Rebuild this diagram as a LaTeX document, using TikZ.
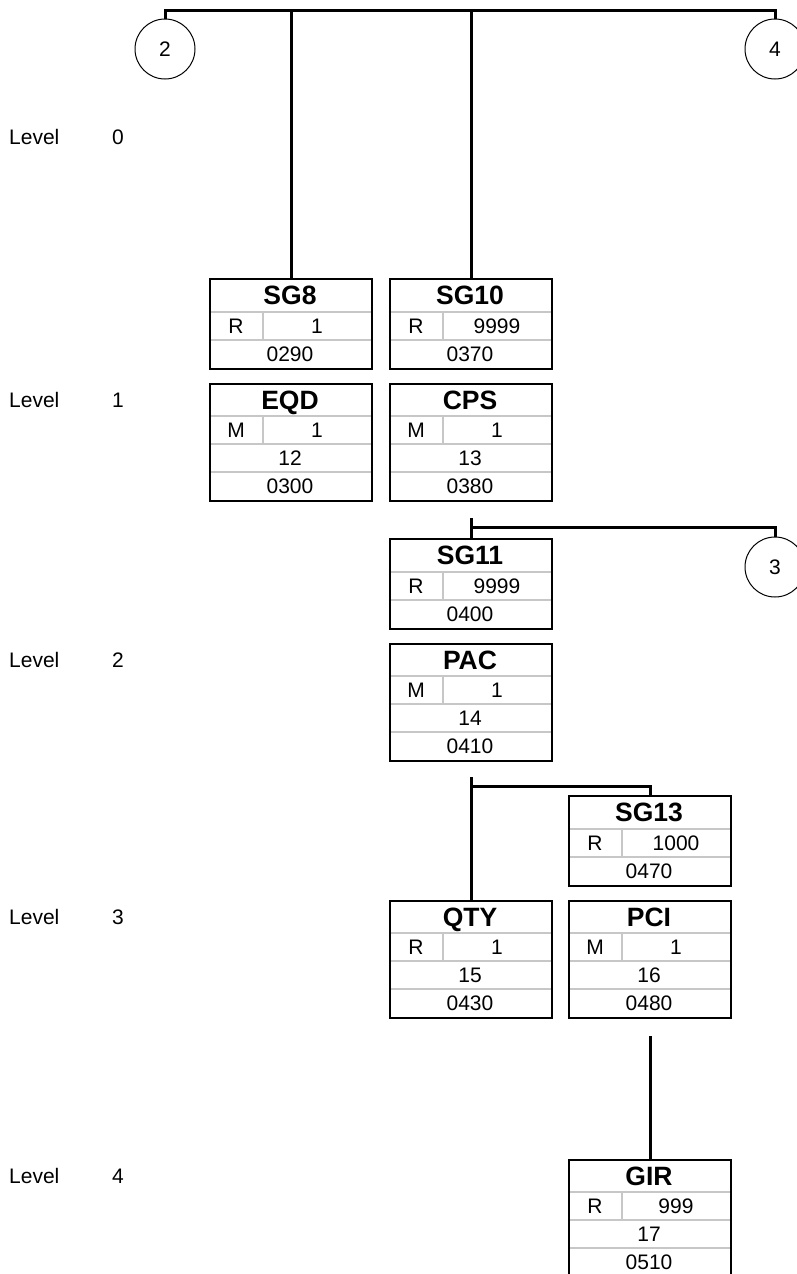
\documentclass[tikz,border=0pt]{standalone}
\usepackage{fontspec}
\setmainfont{Liberation Sans}
\tikzset{
  conn/.style={draw=black, line width=3pt},
  frame/.style={draw=black, line width=2pt, minimum width=162pt, inner sep=0pt, anchor=north west},
  sepline/.style={draw=black!22, line width=1.8pt},
  ttl/.style={inner sep=0pt, text height=19pt, text depth=0pt, font=\fontsize{26.5pt}{30pt}\selectfont\bfseries},
  txt/.style={inner sep=0pt, text height=15pt, text depth=0pt, font=\fontsize{21pt}{24pt}\selectfont},
  circ/.style={draw=black, circle, line width=1pt, minimum size=60pt, inner sep=0pt, text height=15pt, text depth=0pt, font=\fontsize{21pt}{24pt}\selectfont},
  lvl/.style={inner sep=0pt, text height=15pt, text depth=0pt, font=\fontsize{21pt}{24pt}\selectfont}
}
\newcommand\grpbox[7]{%
  \begin{scope}[shift={(#2,#3)}]
    \draw[sepline] (0,34) -- (162,34) (0,62) -- (162,62) (54,34) -- (54,62);
    \node[ttl] (#1-t) at (81,17) {#4};
    \node[txt] (#1-s) at (27,48) {#5};
    \node[txt] (#1-r) at (108,48) {#6};
    \node[txt] (#1-p) at (81,76) {#7};
    \node[frame, minimum height=90pt] (#1) at (0,0) {};
  \end{scope}}
\newcommand\segbox[8]{%
  \begin{scope}[shift={(#2,#3)}]
    \draw[sepline] (0,33) -- (162,33) (0,61) -- (162,61) (0,89) -- (162,89) (54,33) -- (54,61);
    \node[ttl] (#1-t) at (81,16.5) {#4};
    \node[txt] (#1-s) at (27,47) {#5};
    \node[txt] (#1-r) at (108,47) {#6};
    \node[txt] (#1-n) at (81,75) {#7};
    \node[txt] (#1-p) at (81,103) {#8};
    \node[frame, minimum height=117pt] (#1) at (0,0) {};
  \end{scope}}
\begin{document}
\begin{tikzpicture}[x=1pt,y=-1pt]
\useasboundingbox (0,0) rectangle (796,1274);
% level labels
\node[lvl, anchor=west] (lv0) at (9,137) {Level};
\node[lvl] (ln0) at (118,137) {0};
\node[lvl, anchor=west] (lv1) at (9,400) {Level};
\node[lvl] (ln1) at (118,400) {1};
\node[lvl, anchor=west] (lv2) at (9,660) {Level};
\node[lvl] (ln2) at (118,660) {2};
\node[lvl, anchor=west] (lv3) at (9,917) {Level};
\node[lvl] (ln3) at (118,917) {3};
\node[lvl, anchor=west] (lv4) at (9,1176) {Level};
\node[lvl] (ln4) at (118,1176) {4};
% circles
\node[circ] (c2) at (165,49) {2};
\node[circ] (c4) at (775,49) {4};
\node[circ] (c3) at (775,567) {3};
% boxes
\grpbox{sg8}{209}{278}{SG8}{R}{1}{0290}
\grpbox{sg10}{389}{278}{SG10}{R}{9999}{0370}
\segbox{eqd}{209}{383}{EQD}{M}{1}{12}{0300}
\segbox{cps}{389}{383}{CPS}{M}{1}{13}{0380}
\grpbox{sg11}{389}{538}{SG11}{R}{9999}{0400}
\segbox{pac}{389}{643}{PAC}{M}{1}{14}{0410}
\grpbox{sg13}{568}{795}{SG13}{R}{1000}{0470}
\segbox{qty}{389}{900}{QTY}{R}{1}{15}{0430}
\segbox{pci}{568}{900}{PCI}{M}{1}{16}{0480}
\segbox{gir}{568}{1159}{GIR}{R}{999}{17}{0510}
% connectors
\coordinate (bar1) at (0,10);
\coordinate (bar2) at (0,527);
\coordinate (stub2) at (0,518);
\coordinate (bar3) at (0,786);
\coordinate (stub3) at (0,777);
\coordinate (stub4) at (0,1036);
\draw[conn] (c2.north) -- (c2.north |- bar1) -- (c4.north |- bar1) -- (c4.north);
\draw[conn] (sg8.north) -- (sg8.north |- bar1);
\draw[conn] (sg10.north) -- (sg10.north |- bar1);
\draw[conn] (sg11.north) -- (sg11.north |- stub2);
\draw[conn] (sg11.north |- bar2) -- (c3.north |- bar2) -- (c3.north);
\draw[conn] (qty.north) -- (qty.north |- stub3);
\draw[conn] (qty.north |- bar3) -- (sg13.north |- bar3) -- (sg13.north);
\draw[conn] (gir.north) -- (gir.north |- stub4);
\end{tikzpicture}
\end{document}
